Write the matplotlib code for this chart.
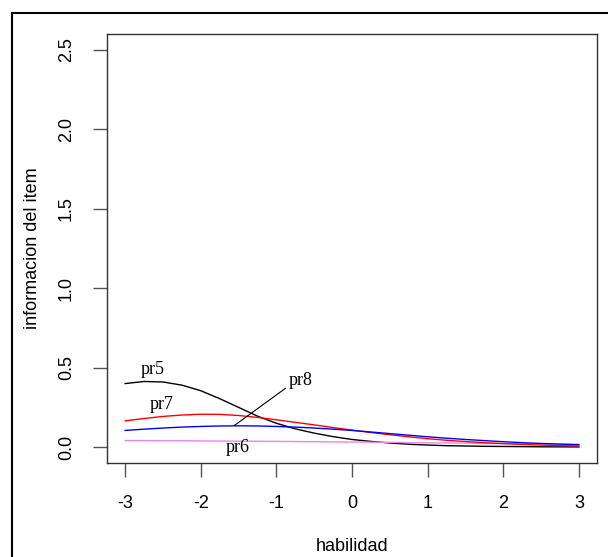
import matplotlib.pyplot as plt
from matplotlib.lines import Line2D

# habilidad (theta) grid and item information
theta = [-3, -2.75, -2.5, -2.25, -2, -1.75, -1.5, -1.25, -1, -0.75, -0.5, -0.25, 0,
         0.25, 0.5, 0.75, 1, 1.25, 1.5, 1.75, 2, 2.25, 2.5, 2.75, 3]
pr5 = [0.40, 0.413, 0.41, 0.39, 0.355, 0.305, 0.25, 0.195, 0.15, 0.115, 0.088, 0.066, 0.048,
       0.036, 0.026, 0.018, 0.013, 0.009, 0.007, 0.005, 0.004, 0.003, 0.002, 0.0015, 0.001]
pr6 = [0.041, 0.041, 0.040, 0.040, 0.039, 0.038, 0.037, 0.037, 0.036, 0.035, 0.034, 0.033, 0.032,
       0.031, 0.030, 0.028, 0.027, 0.026, 0.025, 0.023, 0.022, 0.021, 0.020, 0.019, 0.018]
pr7 = [0.165, 0.18, 0.193, 0.202, 0.207, 0.206, 0.199, 0.187, 0.172, 0.156, 0.14, 0.123, 0.107,
       0.092, 0.078, 0.065, 0.053, 0.043, 0.035, 0.028, 0.022, 0.017, 0.013, 0.01, 0.007]
pr8 = [0.105, 0.113, 0.12, 0.126, 0.13, 0.133, 0.134, 0.133, 0.13, 0.126, 0.12, 0.113, 0.105,
       0.095, 0.085, 0.075, 0.065, 0.056, 0.048, 0.041, 0.034, 0.028, 0.023, 0.019, 0.015]

x_ticks = [-3, -2, -1, 0, 1, 2, 3]
y_ticks = [0.0, 0.5, 1.0, 1.5, 2.0, 2.5]

fig = plt.figure(figsize=(6.08, 5.57), dpi=100)
ax = fig.add_axes([107 / 608, 94 / 557, 490 / 608, 429 / 557])

ax.plot(theta, pr5, color="black", lw=1)
ax.plot(theta, pr6, color="violet", lw=1)
ax.plot(theta, pr7, color="red", lw=1)
ax.plot(theta, pr8, color="blue", lw=1)

# R style axes: 4% padding
ax.set_xlim(-3.24, 3.24)
ax.set_ylim(-0.1, 2.6)
ax.set_xticks(x_ticks)
ax.set_xticklabels(["-3", "-2", "-1", "0", "1", "2", "3"])
ax.set_yticks(y_ticks)
ax.set_yticklabels(["0.0", "0.5", "1.0", "1.5", "2.0", "2.5"], rotation=90, va="center")

for s in ax.spines.values():
    s.set_color("#333333")
    s.set_linewidth(1)
ax.tick_params(axis="both", direction="out", length=10, width=1, color="#555555",
               labelsize=13, pad=13)
for lab in ax.get_xticklabels() + ax.get_yticklabels():
    lab.set_family("Liberation Sans")

ax.set_xlabel("habilidad", family="Liberation Sans", fontsize=13, labelpad=19)
ax.set_ylabel("informacion del item", family="Liberation Sans", fontsize=13, labelpad=12)

# curve labels
lab_font = dict(family="Liberation Serif", fontsize=13, ha="center", va="center")
ax.text(-2.64, 0.49, "pr5", **lab_font)
ax.text(-2.52, 0.27, "pr7", **lab_font)
ax.text(-0.68, 0.42, "pr8", **lab_font)
ax.text(-1.51, -0.005, "pr6", **lab_font)
ax.plot([-1.55, -0.88], [0.138, 0.37], color="black", lw=0.8)

# outer frame of the original device
fig.add_artist(Line2D([12 / 608, 12 / 608], [0, 1 - 13 / 557], color="black", lw=1.5))
fig.add_artist(Line2D([12 / 608, 1], [1 - 13 / 557, 1 - 13 / 557], color="black", lw=1.5))

fig.savefig("out.png", dpi=100)
